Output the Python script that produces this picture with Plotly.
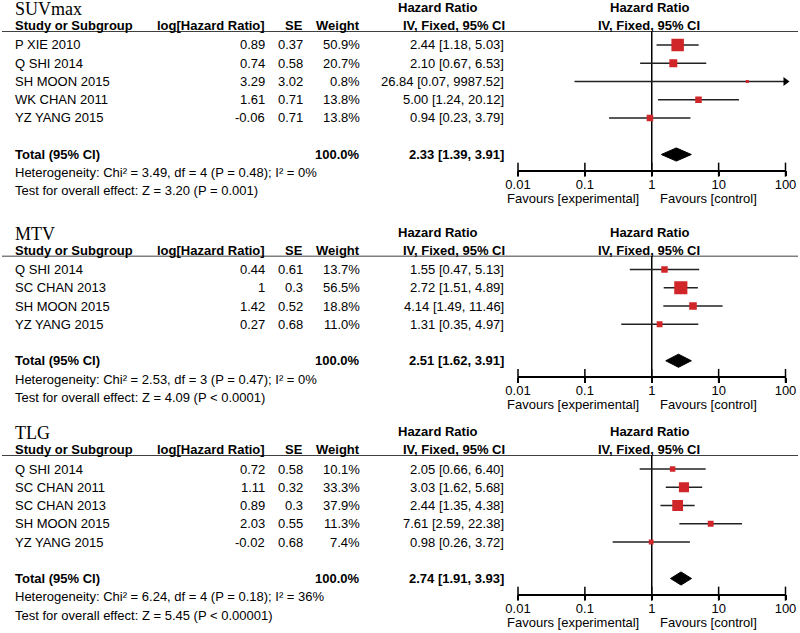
import numpy as np
import plotly.graph_objects as go

# ---- data ----
suv_studies = ["P XIE 2010", "Q SHI 2014", "SH MOON 2015", "WK CHAN 2011", "YZ YANG 2015"]
suv_loghr = [0.89, 0.74, 3.29, 1.61, -0.06]
suv_se = [0.37, 0.58, 3.02, 0.71, 0.71]
suv_weight = [50.9, 20.7, 0.8, 13.8, 13.8]
suv_hr = [2.44, 2.10, 26.84, 5.00, 0.94]
suv_lo = [1.18, 0.67, 0.07, 1.24, 0.23]
suv_hi = [5.03, 6.53, 9987.52, 20.12, 3.79]
suv_total = [2.33, 1.39, 3.91]
suv_het = "Heterogeneity: Chi² = 3.49, df = 4 (P = 0.48); I² = 0%"
suv_test = "Test for overall effect: Z = 3.20 (P = 0.001)"

mtv_studies = ["Q SHI 2014", "SC CHAN 2013", "SH MOON 2015", "YZ YANG 2015"]
mtv_loghr = [0.44, 1, 1.42, 0.27]
mtv_se = [0.61, 0.3, 0.52, 0.68]
mtv_weight = [13.7, 56.5, 18.8, 11.0]
mtv_hr = [1.55, 2.72, 4.14, 1.31]
mtv_lo = [0.47, 1.51, 1.49, 0.35]
mtv_hi = [5.13, 4.89, 11.46, 4.97]
mtv_total = [2.51, 1.62, 3.91]
mtv_het = "Heterogeneity: Chi² = 2.53, df = 3 (P = 0.47); I² = 0%"
mtv_test = "Test for overall effect: Z = 4.09 (P < 0.0001)"

tlg_studies = ["Q SHI 2014", "SC CHAN 2011", "SC CHAN 2013", "SH MOON 2015", "YZ YANG 2015"]
tlg_loghr = [0.72, 1.11, 0.89, 2.03, -0.02]
tlg_se = [0.58, 0.32, 0.3, 0.55, 0.68]
tlg_weight = [10.1, 33.3, 37.9, 11.3, 7.4]
tlg_hr = [2.05, 3.03, 2.44, 7.61, 0.98]
tlg_lo = [0.66, 1.62, 1.35, 2.59, 0.26]
tlg_hi = [6.40, 5.68, 4.38, 22.38, 3.72]
tlg_total = [2.74, 1.91, 3.93]
tlg_het = "Heterogeneity: Chi² = 6.24, df = 4 (P = 0.18); I² = 36%"
tlg_test = "Test for overall effect: Z = 5.45 (P < 0.00001)"

tick_vals = [0.01, 0.1, 1, 10, 100]
tick_text = ["0.01", "0.1", "1", "10", "100"]

panels = [
    dict(name="SUVmax", studies=suv_studies, loghr=suv_loghr, se=suv_se, weight=suv_weight,
         hr=suv_hr, lo=suv_lo, hi=suv_hi, total=suv_total, het=suv_het, test=suv_test, top=45),
    dict(name="MTV", studies=mtv_studies, loghr=mtv_loghr, se=mtv_se, weight=mtv_weight,
         hr=mtv_hr, lo=mtv_lo, hi=mtv_hi, total=mtv_total, het=mtv_het, test=mtv_test, top=269.5),
    dict(name="TLG", studies=tlg_studies, loghr=tlg_loghr, se=tlg_se, weight=tlg_weight,
         hr=tlg_hr, lo=tlg_lo, hi=tlg_hi, total=tlg_total, het=tlg_het, test=tlg_test, top=469),
]

W, H = 800, 633
STEP = 18.25
RED = "#d0262a"
FONT = "Liberation Sans, Arial, sans-serif"
FS = 13
XMAX = 100
NULL_X = np.log10(1)  # annotations on a log axis take log10 positions

fig = go.Figure()
annotations = []
shapes = []


def px(x):
    return x / W


def add_text(text, x, y, anchor="left", bold=False, size=FS, family=FONT, xref="paper", xshift=0):
    # y is a pixel row measured from the top of the picture
    if bold:
        text = "<b>" + text + "</b>"
    annotations.append(dict(text=text, x=x, y=1 - y / H, xref=xref, yref="paper", xanchor=anchor,
                            yanchor="middle", showarrow=False, xshift=xshift,
                            font=dict(family=family, size=size, color="black")))


for k, p in enumerate(panels):
    n = len(p["studies"])
    y_top = -0.75
    y_bot = n + 1.83
    top_px = p["top"] + y_top * STEP
    bot_px = p["top"] + y_bot * STEP
    ax = "" if k == 0 else str(k + 1)
    xa, ya = "x" + ax, "y" + ax

    def row(r):
        return p["top"] + r * STEP

    fig.update_layout(**{
        "xaxis" + ax: dict(type="log", range=[-2, 2], domain=[px(518), px(785.5)], anchor=ya,
                           showline=True, linecolor="black", linewidth=1.5, showgrid=False,
                           zeroline=False, tickvals=tick_vals, ticktext=tick_text,
                           ticks="outside", ticklen=5, tickwidth=1.5, tickcolor="black",
                           ticklabelstandoff=-3, automargin=False,
                           tickfont=dict(family=FONT, size=FS, color="black"), fixedrange=True),
        "yaxis" + ax: dict(range=[y_bot, y_top], domain=[1 - bot_px / H, 1 - top_px / H],
                           anchor=xa, visible=False, fixedrange=True, automargin=False),
    })

    # line of no effect
    fig.add_trace(go.Scatter(x=[1, 1], y=[y_top, y_bot], mode="lines", xaxis=xa, yaxis=ya,
                             line=dict(color="black", width=1.5), hoverinfo="skip", showlegend=False))
    # upper halves of the axis ticks
    fig.add_trace(go.Scatter(x=tick_vals, y=[y_bot] * len(tick_vals), mode="markers", xaxis=xa, yaxis=ya,
                             marker=dict(symbol="line-ns", size=10, opacity=1,
                                         line=dict(color="black", width=1.5)),
                             cliponaxis=False, hoverinfo="skip", showlegend=False))

    rows = list(range(n))
    for i in rows:
        hi = min(p["hi"][i], XMAX)
        fig.add_trace(go.Scatter(x=[p["lo"][i], hi], y=[i, i], mode="lines", xaxis=xa, yaxis=ya,
                                 line=dict(color="#222222", width=1.5), hoverinfo="skip",
                                 showlegend=False, cliponaxis=False))
        if p["hi"][i] > XMAX:
            fig.add_trace(go.Scatter(x=[XMAX], y=[i], mode="markers", xaxis=xa, yaxis=ya,
                                     marker=dict(symbol="triangle-right", size=8, color="black", opacity=1),
                                     cliponaxis=False, hoverinfo="skip", showlegend=False))

    sizes = [max(3.0, 1.75 * np.sqrt(w)) for w in p["weight"]]
    fig.add_trace(go.Scatter(x=p["hr"], y=rows, mode="markers", xaxis=xa, yaxis=ya,
                             marker=dict(symbol="square", size=sizes, color=RED, opacity=1,
                                         line=dict(width=0)),
                             showlegend=False))

    est, lo, hi = p["total"]
    yt = n + 1
    fig.add_trace(go.Scatter(x=[lo, est, hi, est, lo], y=[yt, yt - 0.36, yt, yt + 0.36, yt],
                             mode="lines", fill="toself", fillcolor="black", xaxis=xa, yaxis=ya,
                             line=dict(color="black", width=1), hoverinfo="skip", showlegend=False))

    # header rule across the whole width
    shapes.append(dict(type="line", xref="paper", yref=ya, x0=px(2), x1=px(798), y0=y_top, y1=y_top,
                       line=dict(color="black", width=1.5)))

    # titles and headers
    add_text(p["name"], px(13), row(-1.95), size=18, family="Liberation Serif, Times New Roman, serif")
    add_text("Study or Subgroup", px(13), row(-1.05), bold=True)
    add_text("log[Hazard Ratio]", px(267), row(-1.05), anchor="right", bold=True)
    add_text("SE", px(305), row(-1.05), anchor="right", bold=True)
    add_text("Weight", px(362), row(-1.05), anchor="right", bold=True)
    add_text("Hazard Ratio", px(438), row(-2.05), anchor="center", bold=True)
    add_text("IV, Fixed, 95% CI", px(507), row(-1.05), anchor="right", bold=True)
    add_text("Hazard Ratio", NULL_X, row(-2.05), anchor="center", bold=True, xref=xa, xshift=-2)
    add_text("IV, Fixed, 95% CI", NULL_X, row(-1.05), anchor="center", bold=True, xref=xa, xshift=-3)

    for i in rows:
        add_text(p["studies"][i], px(13), row(i))
        add_text(f"{p['loghr'][i]:g}", px(267), row(i), anchor="right")
        add_text(f"{p['se'][i]:g}", px(305), row(i), anchor="right")
        add_text(f"{p['weight'][i]:.1f}%", px(362), row(i), anchor="right")
        add_text(f"{p['hr'][i]:.2f} [{p['lo'][i]:.2f}, {p['hi'][i]:.2f}]", px(506), row(i), anchor="right")

    add_text("Total (95% CI)", px(13), row(yt), bold=True)
    add_text("100.0%", px(362), row(yt), anchor="right", bold=True)
    add_text(f"{est:.2f} [{lo:.2f}, {hi:.2f}]", px(506), row(yt), anchor="right", bold=True)
    add_text(p["het"], px(13), row(n + 2.0))
    add_text(p["test"], px(13), row(n + 3.0))

    add_text("Favours [experimental]", NULL_X, row(n + 3.4), anchor="right", xref=xa, xshift=-11)
    add_text("Favours [control]", NULL_X, row(n + 3.4), anchor="left", xref=xa, xshift=6)

fig.update_layout(width=W, height=H, margin=dict(l=0, r=0, t=0, b=0, pad=0, autoexpand=False),
                  paper_bgcolor="white", plot_bgcolor="white",
                  annotations=annotations, shapes=shapes, showlegend=False)

fig.write_html("out.html", config={"displayModeBar": False},
               post_script="document.body.style.margin='0';document.body.style.overflow='hidden';")
